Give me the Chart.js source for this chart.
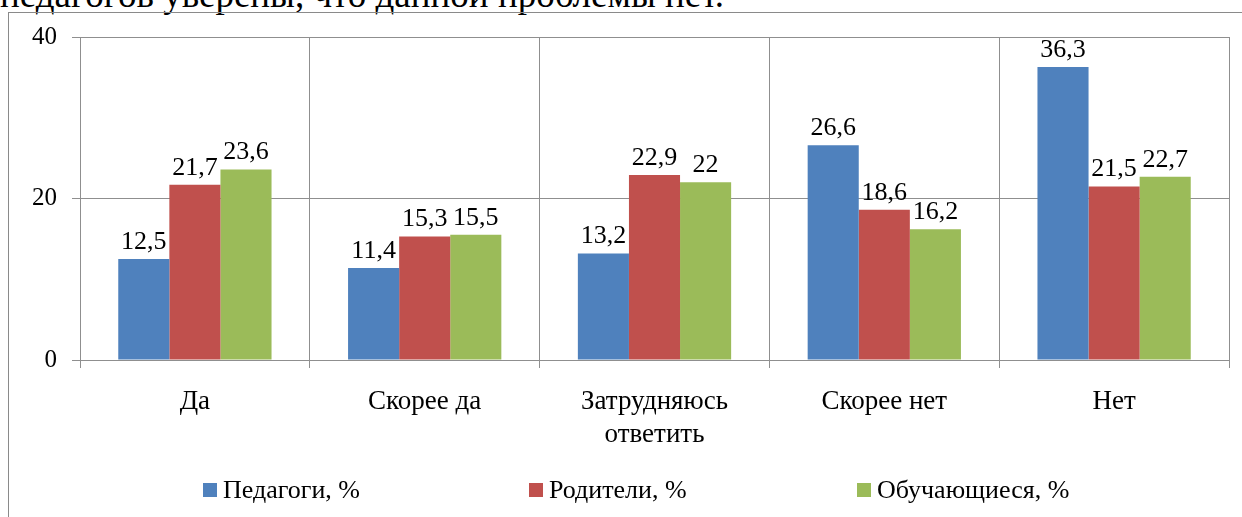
<!DOCTYPE html>
<html lang="ru">
<head>
    <meta charset="UTF-8">
    <title>Bar Chart</title>
    <script src="https://cdn.jsdelivr.net/npm/chart.js"></script>
    <style>
        html, body { margin: 0; padding: 0; background: #fff; overflow: hidden; }
        #caption {
            position: absolute; left: 0; top: -25px; white-space: nowrap; line-height: 40px;
            font-family: 'Liberation Serif', 'Times New Roman', serif; font-size: 37px; color: #000;
        }
        #frame {
            position: absolute; left: 8px; top: 12px; width: 1260px; height: 540px;
            border: 1px solid #8a8a8a; box-sizing: border-box;
        }
        #box { position: absolute; left: 0; top: 0; width: 1233px; height: 504px; }
    </style>
</head>
<body>
    <div id="caption">педагогов уверены, что данной проблемы нет.</div>
    <div id="frame"><div id="box"><canvas id="myChart"></canvas></div></div>

    <script>
        // chart data
        const categories = ['Да', 'Скорее да', ['Затрудняюсь', 'ответить'], 'Скорее нет', 'Нет'];
        const teachers = [12.5, 11.4, 13.2, 26.6, 36.3];
        const parents = [21.7, 15.3, 22.9, 18.6, 21.5];
        const students = [23.6, 15.5, 22, 16.2, 22.7];
        const yTicks = [0, 20, 40];

        const FONT = "'Liberation Serif', 'Times New Roman', serif";
        const gridColor = '#8f8f8f';
        Chart.defaults.font.family = FONT;
        Chart.defaults.color = '#000';

        // value labels above the bars
        const valueLabels = {
            id: 'valueLabels',
            afterDatasetsDraw(chart) {
                const ctx = chart.ctx;
                ctx.save();
                ctx.font = '26px ' + FONT;
                ctx.fillStyle = '#000';
                ctx.textAlign = 'center';
                ctx.textBaseline = 'alphabetic';
                chart.data.datasets.forEach((ds, i) => {
                    chart.getDatasetMeta(i).data.forEach((bar, j) => {
                        ctx.fillText(String(ds.data[j]).replace('.', ','), bar.x, bar.y - 10);
                    });
                });
                ctx.restore();
            }
        };

        // legend with fixed spacing, like the office chart
        const bottomLegend = {
            id: 'bottomLegend',
            afterDraw(chart) {
                const ctx = chart.ctx;
                const starts = [194, 520, 848];
                const baseline = 485;
                ctx.save();
                ctx.font = '26px ' + FONT;
                ctx.textBaseline = 'alphabetic';
                chart.data.datasets.forEach((ds, i) => {
                    ctx.fillStyle = ds.backgroundColor;
                    ctx.fillRect(starts[i], baseline - 15, 14, 14);
                    ctx.fillStyle = '#000';
                    ctx.fillText(ds.label, starts[i] + 20, baseline);
                });
                ctx.restore();
            }
        };

        const config = {
            type: 'bar',
            data: {
                labels: categories,
                datasets: [{
                    label: 'Педагоги, %',
                    backgroundColor: '#4F81BD',
                    data: teachers
                }, {
                    label: 'Родители, %',
                    backgroundColor: '#C0504D',
                    data: parents
                }, {
                    label: 'Обучающиеся, %',
                    backgroundColor: '#9BBB59',
                    data: students
                }]
            },
            options: {
                responsive: true,
                maintainAspectRatio: false,
                animation: false,
                layout: { padding: { top: 24, right: 13, left: 0, bottom: 0 } },
                datasets: { bar: { categoryPercentage: 0.667, barPercentage: 1 } },
                plugins: { legend: { display: false }, tooltip: { enabled: false } },
                scales: {
                    x: {
                        grid: { color: gridColor, offset: true, tickLength: 8 },
                        border: { color: gridColor },
                        ticks: { font: { size: 27, lineHeight: 1.22 }, padding: 17, maxRotation: 0 },
                        afterFit: s => { s.height = 157; }
                    },
                    y: {
                        min: 0, max: 40,
                        afterBuildTicks: s => { s.ticks = yTicks.map(v => ({ value: v })); },
                        grid: { color: gridColor, tickLength: 8 },
                        border: { color: gridColor },
                        ticks: { font: { size: 25 }, padding: 15 },
                        afterFit: s => { s.width = 71; s.paddingTop = 0; s.paddingBottom = 0; }
                    }
                }
            },
            plugins: [valueLabels, bottomLegend]
        };

        // make sure the serif face is ready before the canvas draws text
        const sample = 'Педагоги, % 0123456789';
        Promise.all(['25px', '26px', '27px'].map(sz => document.fonts.load(sz + " 'Liberation Serif'", sample)))
            .catch(() => {})
            .then(() => {
                var myChart = new Chart(document.getElementById('myChart'), config);
                document.fonts.ready.then(() => myChart.update());
                setTimeout(() => myChart.update(), 300);
            });
    </script>
</body>
</html>
